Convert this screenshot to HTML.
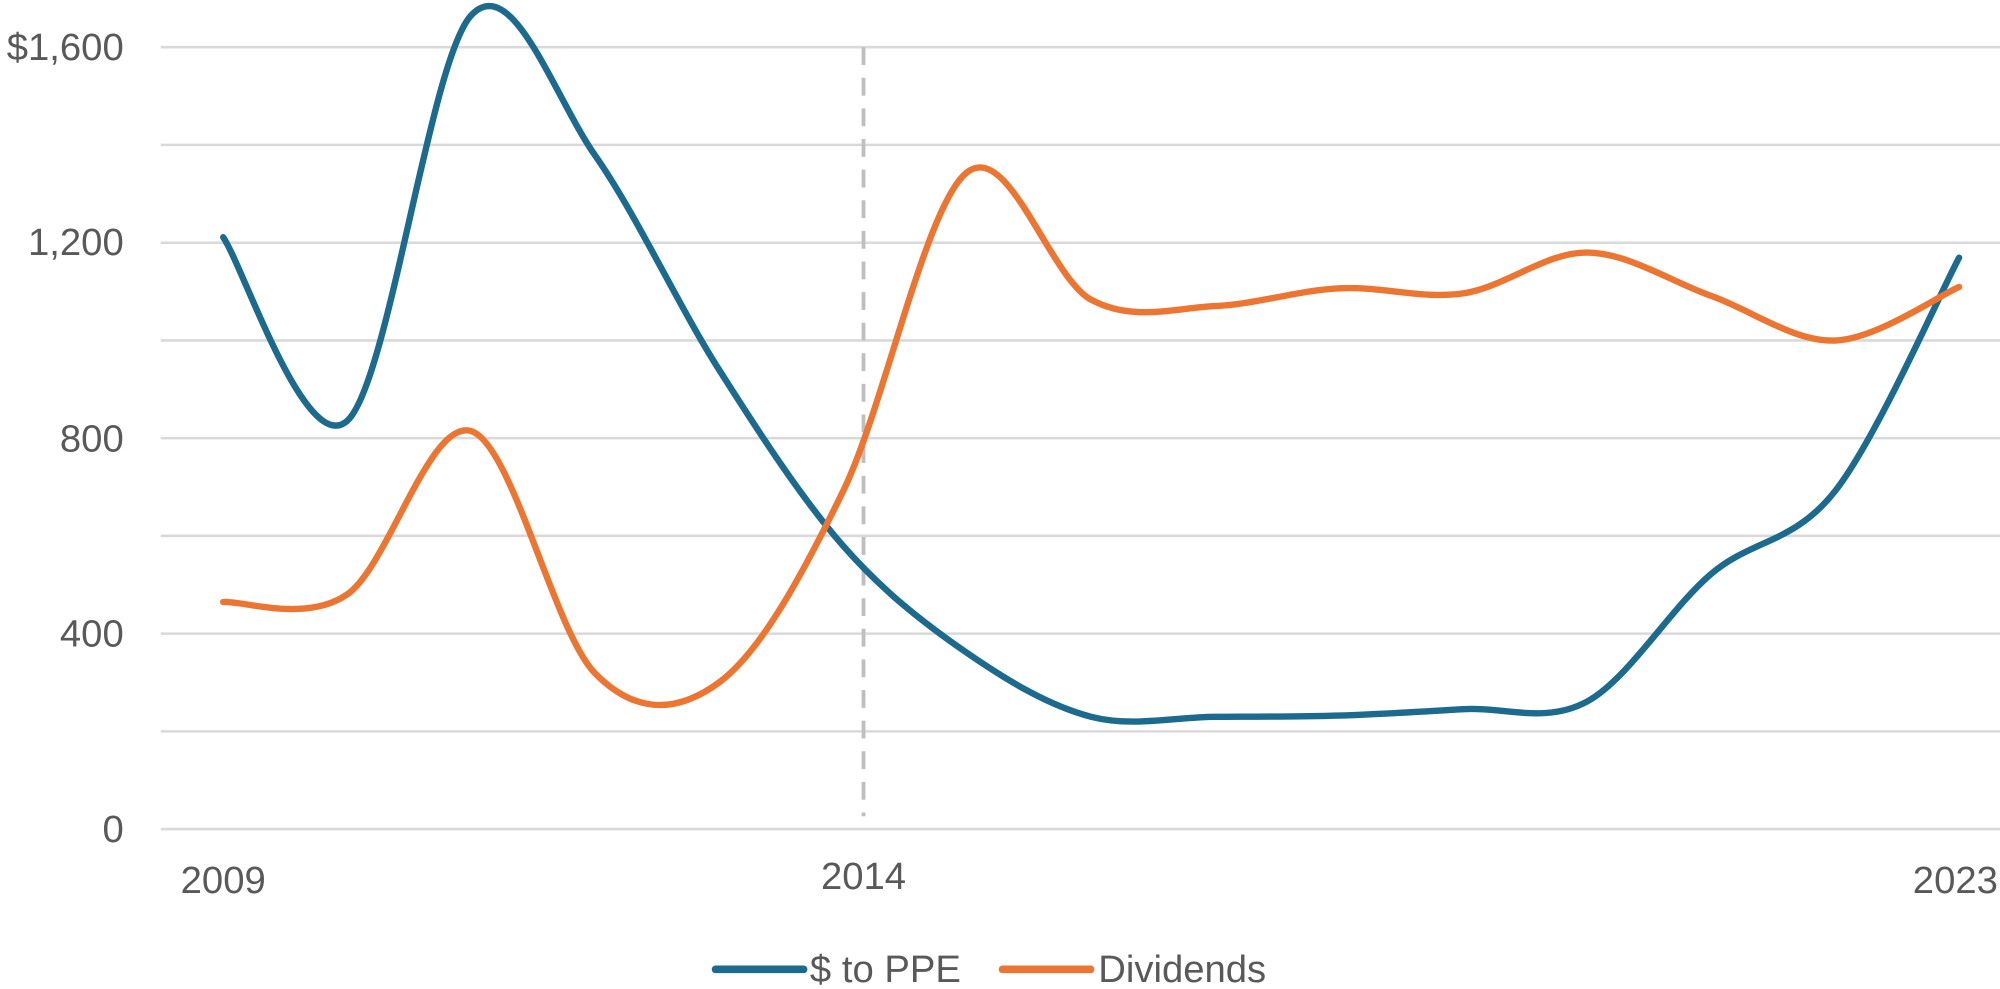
<!DOCTYPE html>
<html><head><meta charset="utf-8"><style>
html,body{margin:0;padding:0;background:#fff;overflow:hidden}
svg{display:block}
text{font-family:"Liberation Sans",Arial,sans-serif;fill:#595959;font-size:30px}
</style></head><body>
<svg width="2000" height="989" viewBox="0 0 1568 775.4" preserveAspectRatio="none">
<g stroke="#d9d9d9" stroke-width="2">
<line x1="126" x2="1568" y1="37" y2="37"/>
<line x1="126" x2="1568" y1="113.6" y2="113.6"/>
<line x1="126" x2="1568" y1="190.3" y2="190.3"/>
<line x1="126" x2="1568" y1="266.9" y2="266.9"/>
<line x1="126" x2="1568" y1="343.5" y2="343.5"/>
<line x1="126" x2="1568" y1="420.1" y2="420.1"/>
<line x1="126" x2="1568" y1="496.8" y2="496.8"/>
<line x1="126" x2="1568" y1="573.4" y2="573.4"/>
<line x1="126" x2="1568" y1="650" y2="650"/>
</g>
<line x1="677" x2="677" y1="37" y2="640" stroke="#bfbfbf" stroke-width="3" stroke-dasharray="14,10"/>
<g text-anchor="end">
<text x="97" y="47">$1,600</text>
<text x="97" y="200">1,200</text>
<text x="97" y="354">800</text>
<text x="97" y="507">400</text>
<text x="97" y="660">0</text>
</g>
<g text-anchor="middle">
<text x="175" y="700">2009</text>
<text x="677" y="697">2014</text>
<text x="1533" y="700">2023</text>
</g>
<path id="blue" fill="none" stroke="#1c6a8e" stroke-width="5" stroke-linecap="round"/>
<path id="orange" fill="none" stroke="#ed7532" stroke-width="5" stroke-linecap="round"/>
<line x1="561" x2="630" y1="760" y2="760" stroke="#1c6a8e" stroke-width="6" stroke-linecap="round"/>
<text x="635" y="770">$ to PPE</text>
<line x1="786" x2="855" y1="760" y2="760" stroke="#ed7532" stroke-width="6" stroke-linecap="round"/>
<text x="861" y="770">Dividends</text>
</svg>
<script>
function cr(p){var d="M"+p[0][0]+","+p[0][1];for(var i=0;i<p.length-1;i++){var a=p[i-1]||p[i],b=p[i],c=p[i+1],e=p[i+2]||c;
d+=" C"+(b[0]+(c[0]-a[0])/6)+","+(b[1]+(c[1]-a[1])/6)+" "+(c[0]-(e[0]-b[0])/6)+","+(c[1]-(e[1]-b[1])/6)+" "+c[0]+","+c[1];}return d;}
function mk(v){return v.map(function(y,i){return [175+i*97.21,y];});}
var blue=mk([186,330,12,122,290,428,512,562,562,561,556,550,450,385,202]);
var orange=mk([472,466,338,528,535,385,135,235,240,226,230,198,232,267,225]);
document.getElementById("blue").setAttribute("d",cr(blue));
document.getElementById("orange").setAttribute("d",cr(orange));
</script>
</body></html>
